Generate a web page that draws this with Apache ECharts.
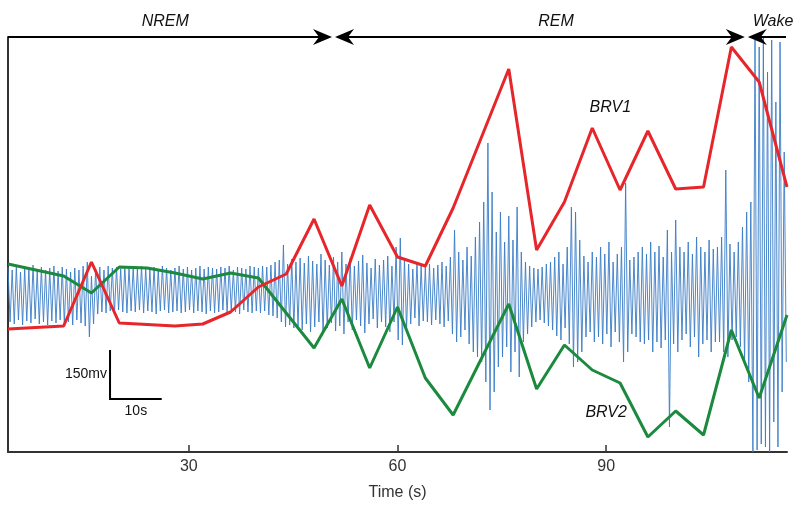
<!DOCTYPE html>
<html><head><meta charset="utf-8">
<script src="https://cdn.jsdelivr.net/npm/echarts@6/dist/echarts.min.js"></script>
<style>html,body{margin:0;padding:0;background:#fff}#c{width:800px;height:508px}</style>
</head><body><div id="c"></div>
<script>
// ---- data ----
const xTicks = [30, 60, 90];
const brv1Times = [4,12,16,20,28,32,36,40,44,48,52,56,60,64,68,76,80,84,88,92,96,100,104,108,112,116];
const brv1Values = [123,126,190,129,126,128,140,165,178,233,166,247,195,186,244,383,202,250,324,262,321,263,265,405,370,265];
const brv2Times = [4,12,16,20,24,28,32,36,40,48,52,56,60,64,68,76,80,84,88,92,96,100,104,108,112,116];
const brv2Values = [188,176,159,185,184,179,173,179,174,104,153,84,145,74,37,148,63,107,82,69,15,41,17,122,54,137];
const signalStart = 4;
const signalStep = 0.3;
const signal = [
185,130,182,128,186,132,180,127,184,131,183,129,187,133,181,128,185,130,182,127,
184,131,186,129,181,132,185,128,183,130,180,127,184,132,182,129,186,126,190,115,
176,128,183,138,185,140,182,139,186,141,184,138,185,142,183,140,186,139,184,141,
185,140,183,142,186,139,184,141,182,140,185,138,183,141,186,142,184,139,182,140,
184,141,186,139,183,140,185,142,182,139,184,141,186,140,183,138,185,141,184,139,
183,140,185,142,184,139,186,141,182,140,185,138,184,142,183,140,186,139,185,141,
184,139,186,141,185,137,187,136,190,134,192,130,207,125,188,127,193,124,190,126,
194,122,189,128,196,120,191,125,188,130,198,118,192,124,187,129,195,121,190,126,
200,118,188,130,194,122,186,132,191,126,197,119,189,128,184,133,193,124,187,130,
192,125,196,120,186,130,205,112,214,107,194,122,188,128,183,134,190,126,186,131,
185,130,188,127,184,132,187,128,190,125,186,131,195,118,222,110,200,115,192,122,
205,108,196,100,215,95,230,90,250,70,309,42,260,60,220,85,240,95,210,105,
236,80,212,100,245,75,200,110,190,118,186,125,184,130,183,132,185,129,188,126,
190,122,195,116,200,112,188,124,205,108,245,85,240,90,212,100,196,115,190,120,
200,110,195,115,205,108,198,118,210,105,190,120,198,110,205,90,269,100,192,118,
195,115,200,110,205,108,198,112,210,100,200,110,206,104,195,112,222,25,200,108,
232,100,205,112,200,118,210,105,198,115,215,95,205,108,200,112,212,100,203,110,
205,110,215,100,282,95,208,112,200,115,210,105,225,90,240,70,250,0,412,2,
405,8,415,5,380,0,412,30,350,5,410,60,300,90
];
const phaseNames = ['NREM', 'REM', 'Wake'];
const phaseBounds = [4, 50.8, 110.15, 116];
const phaseLabelAt = [26.6, 82.8, 114];
const seriesLabels = ['BRV1', 'BRV2'];
const seriesLabelPos = [[90.6, 344], [90.0, 39]];
const scaleBarTime = [18.67, 26.1];
const scaleBarValue = [53, 102];
const scaleBarLabels = ['150mv', '10s'];

// ---- chart ----
const FONT = "'Liberation Sans', Arial, Helvetica, sans-serif";
const chart = echarts.init(document.getElementById('c'), null, {renderer: 'canvas'});
const zip = (t, v) => t.map((x, i) => [x, v[i]]);
chart.setOption({
  animation: false,
  grid: {left: 8, right: 13, top: 37, bottom: 56, containLabel: false},
  xAxis: {
    type: 'value', min: 4, max: 116,
    axisLine: {show: true, lineStyle: {color: '#333', width: 2}},
    axisTick: {show: true, inside: true, length: 7, customValues: xTicks, lineStyle: {color: '#333', width: 1.5}},
    axisLabel: {customValues: xTicks, fontSize: 16, color: '#333', margin: 7, fontFamily: FONT},
    splitLine: {show: false},
    name: 'Time (s)', nameLocation: 'middle', nameGap: 33,
    nameTextStyle: {fontSize: 16, color: '#333', fontFamily: FONT}
  },
  yAxis: {
    type: 'value', min: 0, max: 415,
    axisLine: {show: true, lineStyle: {color: '#333', width: 2}},
    axisTick: {show: false}, axisLabel: {show: false}, splitLine: {show: false}
  },
  series: [
    {type: 'line', data: signal.map((v, i) => [signalStart + i * signalStep, v]), showSymbol: false,
     lineStyle: {color: '#3a7cc7', width: 1, opacity: 0.9}, z: 1},
    {type: 'line', data: zip(brv2Times, brv2Values), showSymbol: false,
     lineStyle: {color: '#1b8a3e', width: 3}, z: 3},
    {type: 'line', data: zip(brv1Times, brv1Values), showSymbol: false,
     lineStyle: {color: '#e6262a', width: 3}, z: 4}
  ]
});

const px = t => chart.convertToPixel({xAxisIndex: 0}, t);
const py = v => chart.convertToPixel({yAxisIndex: 0}, v);
const g = [];
const arrowY = py(415);
function head(x, dir) {
  return {type: 'polygon', z: 10, shape: {points: [[x, arrowY], [x - dir * 19, arrowY - 8], [x - dir * 13, arrowY], [x - dir * 19, arrowY + 8]]}, style: {fill: '#000'}};
}
function seg(x1, x2) {
  return {type: 'line', z: 10, shape: {x1: x1, y1: arrowY, x2: x2, y2: arrowY}, style: {stroke: '#000', lineWidth: 2}};
}
// NREM
const b1 = px(phaseBounds[1]), b2 = px(phaseBounds[2]);
g.push(seg(px(phaseBounds[0]), b1 - 8), head(b1 - 1.5, 1));
g.push(seg(b1 + 8, b2 - 8), head(b1 + 1.5, -1), head(b2 - 1.5, 1));
g.push(seg(b2 + 8, px(phaseBounds[3]) - 1), head(b2 + 1.5, -1));
phaseNames.forEach((n, i) => g.push({type: 'text', z: 10, style: {text: n, x: px(phaseLabelAt[i]), y: 22, textAlign: 'center', textVerticalAlign: 'middle', font: 'italic 16px ' + FONT, fill: '#111'}}));
seriesLabels.forEach((n, i) => g.push({type: 'text', z: 10, style: {text: n, x: px(seriesLabelPos[i][0]), y: py(seriesLabelPos[i][1]), textAlign: 'center', textVerticalAlign: 'middle', font: 'italic 16px ' + FONT, fill: '#111'}}));
// scale bar
const sx0 = px(scaleBarTime[0]), sx1 = px(scaleBarTime[1]), sy0 = py(scaleBarValue[0]), sy1 = py(scaleBarValue[1]);
g.push({type: 'polyline', z: 10, shape: {points: [[sx0, sy1], [sx0, sy0], [sx1, sy0]]}, style: {stroke: '#000', lineWidth: 2, fill: null}});
g.push({type: 'text', z: 10, style: {text: scaleBarLabels[0], x: sx0 - 3, y: (sy0 + sy1) / 2, textAlign: 'right', textVerticalAlign: 'middle', font: '14px ' + FONT, fill: '#111'}});
g.push({type: 'text', z: 10, style: {text: scaleBarLabels[1], x: (sx0 + sx1) / 2, y: sy0 + 12, textAlign: 'center', textVerticalAlign: 'middle', font: '14px ' + FONT, fill: '#111'}});
chart.setOption({graphic: g});
</script></body></html>
